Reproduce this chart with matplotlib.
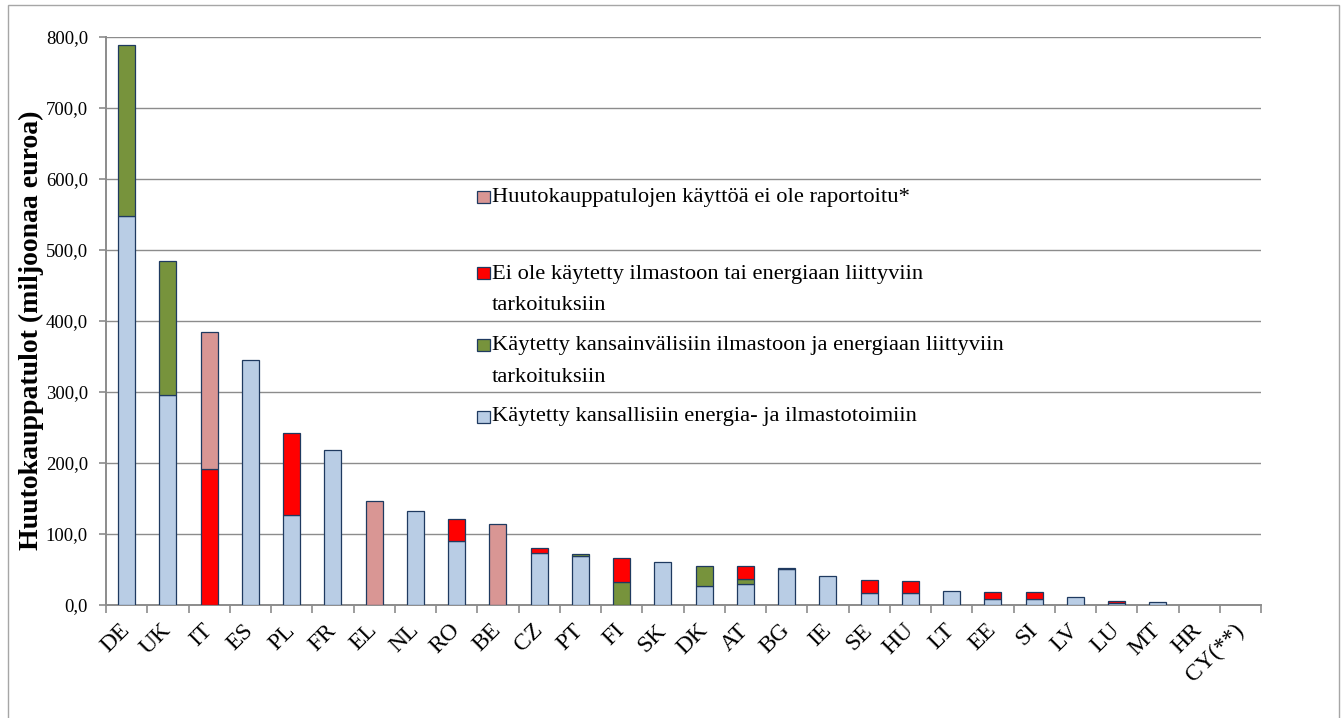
import numpy as np
import matplotlib
matplotlib.use("Agg")
import matplotlib.pyplot as plt
from matplotlib.patches import Rectangle

plt.rcParams['font.family'] = ['Liberation Serif', 'DejaVu Serif']

countries = ["DE", "UK", "IT", "ES", "PL", "FR", "EL", "NL", "RO", "BE", "CZ", "PT", "FI", "SK",
             "DK", "AT", "BG", "IE", "SE", "HU", "LT", "EE", "SI", "LV", "LU", "MT", "HR", "CY(**)"]

# million EUR
national = [547, 296, 0, 345, 127, 218, 0, 133, 90, 0, 72.6, 69, 0, 61,
            27, 29.5, 50.5, 41, 17.5, 16.5, 20, 8.5, 8.5, 11.5, 2.5, 4.5, 0, 0]
international = [242, 188, 0, 0, 0, 0, 0, 0, 0, 0, 0, 3, 33, 0,
                 28, 6.5, 1, 0, 0, 0, 0, 0, 0, 0, 0, 0, 0, 0]
not_climate = [0, 0, 192, 0, 115, 0, 0, 0, 31.5, 0, 7, 0, 33, 0,
               0, 19, 0, 0, 18, 17, 0, 9.5, 10, 0, 3, 0, 0, 0]
not_reported = [0, 0, 193, 0, 0, 0, 146.5, 0, 0, 114, 0, 0, 0, 0,
                0, 0, 0, 0, 0, 0, 0, 0, 0, 0, 0, 0, 0, 0]

series = [
    ("Käytetty kansallisiin energia- ja ilmastotoimiin", national, "#B9CDE5"),
    ("Käytetty kansainvälisiin ilmastoon ja energiaan liittyviin\ntarkoituksiin", international, "#77933C"),
    ("Ei ole käytetty ilmastoon tai energiaan liittyviin\ntarkoituksiin", not_climate, "#FF0000"),
    ("Huutokauppatulojen käyttöä ei ole raportoitu*", not_reported, "#D99694"),
]
edge = "#1F3A60"

fig = plt.figure(figsize=(13.41, 7.18), dpi=100)
ax = fig.add_axes([106/1341, (718-605)/718, 1155/1341, 568.3/718])

x = np.arange(len(countries))
bottom = np.zeros(len(countries))
for name, vals, col in series:
    vals = np.array(vals, dtype=float)
    m = vals > 0
    ax.bar(x[m], vals[m], 0.41, bottom=bottom[m], color=col, edgecolor=edge, linewidth=0.9, zorder=3)
    bottom += vals

ax.set_xlim(-0.5, len(countries) - 0.5)
ax.set_ylim(0, 800)
ax.set_yticks(np.arange(0, 801, 100))
ax.set_yticklabels([("%.1f" % v).replace(".", ",") for v in np.arange(0, 801, 100)], fontsize=13.5)
ax.yaxis.grid(True, color="#8c8c8c", linewidth=1.0, zorder=0)

ax.set_xticks(x)
ax.set_xticklabels(countries, rotation=45, ha="right", va="center", rotation_mode="anchor", fontsize=17)
ax.set_xticks(np.arange(-0.5, len(countries)), minor=True)
ax.tick_params(axis="x", which="major", length=0, pad=16)
ax.tick_params(axis="x", which="minor", length=6, color="#8c8c8c", width=1.2)
ax.tick_params(axis="y", length=5, color="#8c8c8c", width=1.2, pad=8)

for s in ["top", "right"]:
    ax.spines[s].set_visible(False)
for s in ["left", "bottom"]:
    ax.spines[s].set_color("#8c8c8c")
    ax.spines[s].set_linewidth(1.4)

fig.text(31/1341, (718-330)/718, "Huutokauppatulot (miljoonaa euroa)", fontsize=20,
         fontweight="bold", rotation=90, ha="center", va="center")

# legend drawn by hand to mimic the Excel layout
leg_pos = {  # label index -> (marker centre y, text centre y) in axes fraction
    3: (0.7179, 0.7179),
    2: (0.5842, 0.5543),
    1: (0.4584, 0.4289),
    0: (0.3317, 0.3317),
}
for i, (name, vals, col) in enumerate(series):
    my, ty = leg_pos[i]
    ax.add_patch(Rectangle((0.3212, my - 0.0106), 0.0113, 0.0211, transform=ax.transAxes,
                           facecolor=col, edgecolor=edge, linewidth=0.9, zorder=5, clip_on=False))
    ax.text(0.3342, ty, name, transform=ax.transAxes, fontsize=16.2, va="center", ha="left",
            linespacing=1.9, zorder=5)

fig.add_artist(Rectangle((8/1341, -0.01), 1331/1341, (718-5)/718 + 0.01,
                         transform=fig.transFigure, fill=False, edgecolor="#a6a6a6", linewidth=1))

fig.savefig("out.png", dpi=100)
